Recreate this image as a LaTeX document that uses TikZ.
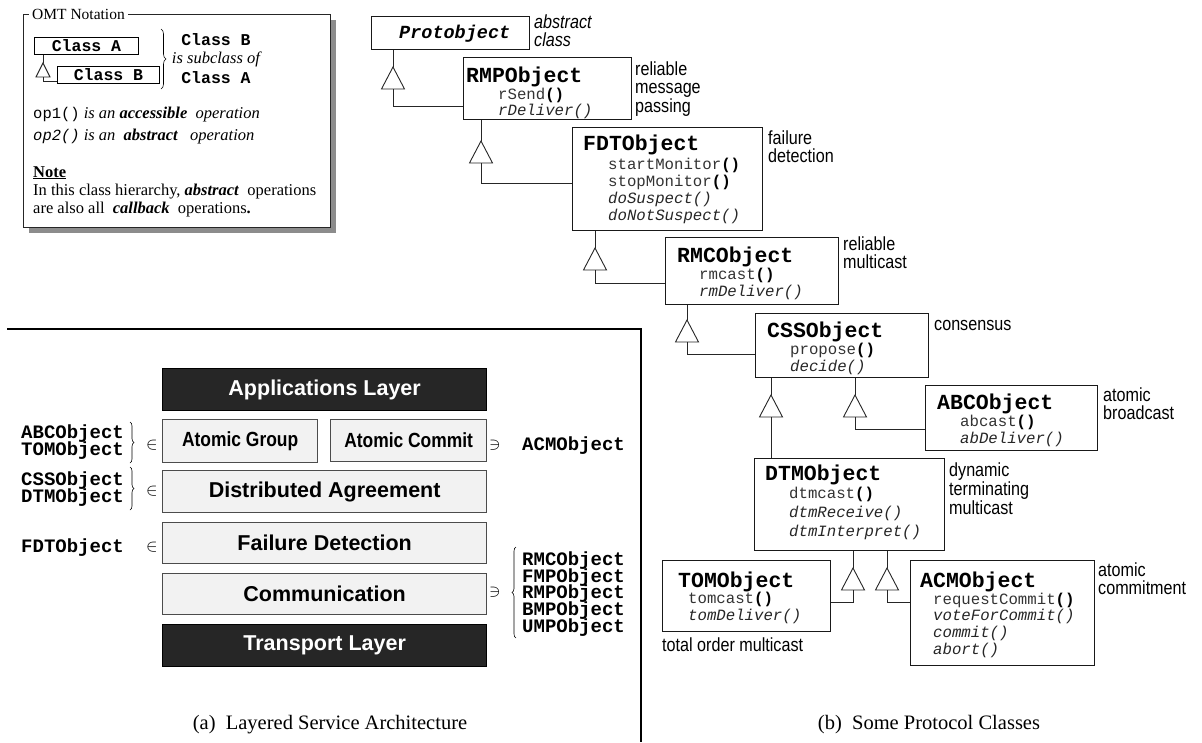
\documentclass[tikz,border=0pt]{standalone}
\usepackage{fontspec}
\setmainfont{Liberation Serif}
\newfontfamily\cour{Liberation Mono}
\newfontfamily\nsans[FakeStretch=0.85]{Liberation Sans}
\newfontfamily\hsans{Liberation Sans}
\usetikzlibrary{decorations.pathreplacing}

% accessible operation: plain name, bold parentheses
\newcommand{\opacc}[1]{{\color{black!80}#1}\textbf{()}}
% abstract (callback) operation: italic
\newcommand{\opabs}[1]{{\color{black!85}\textit{#1()}}}

% inheritance triangle: name, x, apex y, half width, height
\newcommand{\inhtri}[5]{%
  \coordinate (#1a) at (#2,#3);
  \coordinate (#1b) at (#2,#3+#5);
  \draw[tri] (#1a) -- ++(-#4,#5) -- ++(2*#4,0) -- cycle;
}

\begin{document}
\begin{tikzpicture}[x=1pt,y=-1pt,
  cls/.style={draw=black!90, line width=1.1pt, fill=white, inner sep=0pt, anchor=north west},
  cname/.style={anchor=base west, inner sep=0pt, font=\cour\bfseries\fontsize{21.5}{22}\selectfont},
  mth/.style={anchor=base west, inner sep=0pt, font=\cour\fontsize{15.7}{17}\selectfont},
  tag/.style={anchor=north west, inner sep=0pt, align=left, font=\nsans\fontsize{19}{17.5}\selectfont},
  conn/.style={line width=0.9pt, draw=black!85},
  tri/.style={conn, fill=white},
  layer/.style={draw=black!70, line width=1.3pt, fill=black!5, inner sep=0pt, anchor=north west,
    font=\hsans\bfseries\fontsize{21.5}{24}\selectfont},
  darklayer/.style={layer, fill=black!85, draw=black, text=white},
  obj/.style={anchor=base west, inner sep=0pt, font=\cour\bfseries\fontsize{19}{19}\selectfont},
  memb/.style={inner sep=0pt, font=\fontsize{17}{17}\selectfont},
  brc/.style={decorate, decoration={brace, amplitude=4pt}, line width=0.6pt},
  serif/.style={anchor=base west, inner sep=0pt, font=\fontsize{16.5}{18}\selectfont},
  capt/.style={inner sep=0pt, font=\fontsize{20.5}{22}\selectfont}
]
\useasboundingbox (0,0) rectangle (1202,742);

% ---------------- OMT notation legend ----------------
\fill[black!45] (29,20) rectangle (336,233);
\node[draw=black!85, line width=0.9pt, fill=white, minimum width=307, minimum height=213,
      anchor=north west, inner sep=0pt] (omt) at (23,14) {};
\node[fill=white, inner xsep=3pt, inner ysep=1pt, anchor=west, font=\fontsize{15.5}{16}\selectfont]
      (omttitle) at (29,14) {OMT Notation};

\node[draw, line width=1pt, minimum width=104, minimum height=17, anchor=north west, inner sep=0pt,
      font=\cour\bfseries\fontsize{16.5}{17}\selectfont] (ca) at (34,37) {Class A};
\node[draw, line width=1pt, minimum width=102, minimum height=17, anchor=north west, inner sep=0pt,
      font=\cour\bfseries\fontsize{16.5}{17}\selectfont] (cb) at (57,66) {Class B};
\inhtri{o}{43}{63}{7}{14}
\draw[conn] (ca.south -| oa) -- (oa);
\draw[conn] (ob) |- (cb.west |- 0,81);
\draw[brc, decoration={amplitude=5pt}] (161,29) -- (161,89);
\node[anchor=base, inner sep=0pt, font=\cour\bfseries\fontsize{16.5}{17}\selectfont] (lb) at (216,45) {Class B};
\node[anchor=base, inner sep=0pt, font=\itshape\fontsize{16.5}{17}\selectfont] (lsub) at (216,63) {is subclass of};
\node[anchor=base, inner sep=0pt, font=\cour\bfseries\fontsize{16.5}{17}\selectfont] (la) at (216,83) {Class A};

\node[serif] (op1) at (33,118) {{\cour\fontsize{15.5}{17}\selectfont op1()} \textit{is an \textbf{accessible} \ operation}};
\node[serif] (op2) at (33,140) {{\cour\itshape\fontsize{15.5}{17}\selectfont op2()} \textit{is an \ \textbf{abstract} \ \ operation}};
\node[serif] (note) at (33,177) {\underline{\textbf{Note}}};
\node[serif] (note1) at (33,195) {In this class hierarchy, \textbf{\textit{abstract}} \ operations};
\node[serif] (note2) at (33,213) {are also all \ \textbf{\textit{callback}} \ operations\textbf{.}};

% ---------------- protocol class hierarchy ----------------
\node[cls, minimum width=158, minimum height=33] (proto) at (371,16) {};
\node[cname, font=\cour\bfseries\itshape\fontsize{18.5}{20}\selectfont] (protot) at (399,38) {Protobject};
\node[tag, font=\nsans\itshape\fontsize{19}{17.5}\selectfont] (protol) at (534,15) {abstract\\class};

\node[cls, minimum width=168, minimum height=62] (rmp) at (463,57) {};
\node[cname] (rmpt) at (466,82) {RMPObject};
\node[mth] (rmp1) at (498,99) {\opacc{rSend}};
\node[mth] (rmp2) at (498,115) {\opabs{rDeliver}};
\node[tag] (rmpl) at (635,62) {reliable\\message\\passing};

\node[cls, minimum width=190, minimum height=103] (fdt) at (572,127) {};
\node[cname] (fdtt) at (583,150) {FDTObject};
\node[mth] (fdt1) at (608,169) {\opacc{startMonitor}};
\node[mth] (fdt2) at (608,186) {\opacc{stopMonitor}};
\node[mth] (fdt3) at (608,203) {\opabs{doSuspect}};
\node[mth] (fdt4) at (608,220) {\opabs{doNotSuspect}};
\node[tag] (fdtl) at (768,131) {failure\\detection};

\node[cls, minimum width=173, minimum height=67] (rmc) at (665,237) {};
\node[cname] (rmct) at (677,262) {RMCObject};
\node[mth] (rmc1) at (699,279) {\opacc{rmcast}};
\node[mth] (rmc2) at (699,296) {\opabs{rmDeliver}};
\node[tag] (rmcl) at (843,237) {reliable\\multicast};

\node[cls, minimum width=173, minimum height=64] (css) at (755,313) {};
\node[cname] (csst) at (767,337) {CSSObject};
\node[mth] (css1) at (790,354) {\opacc{propose}};
\node[mth] (css2) at (790,371) {\opabs{decide}};
\node[tag, anchor=base west] (cssl) at (934,330) {consensus};

\node[cls, minimum width=172, minimum height=65] (abc) at (925,385) {};
\node[cname] (abct) at (937,409) {ABCObject};
\node[mth] (abc1) at (960,426) {\opacc{abcast}};
\node[mth] (abc2) at (960,443) {\opabs{abDeliver}};
\node[tag] (abcl) at (1103,388) {atomic\\broadcast};

\node[cls, minimum width=190, minimum height=92] (dtm) at (754,458) {};
\node[cname] (dtmt) at (765,480) {DTMObject};
\node[mth] (dtm1) at (789,498) {\opacc{dtmcast}};
\node[mth] (dtm2) at (789,517) {\opabs{dtmReceive}};
\node[mth] (dtm3) at (789,536) {\opabs{dtmInterpret}};
\node[tag] (dtml) at (949,463) {dynamic\\terminating\\multicast};

\node[cls, minimum width=168, minimum height=71] (tom) at (662,560) {};
\node[cname] (tomt) at (678,587) {TOMObject};
\node[mth] (tom1) at (688,603) {\opacc{tomcast}};
\node[mth] (tom2) at (688,620) {\opabs{tomDeliver}};
\node[tag, anchor=base west] (toml) at (662,651) {total order multicast};

\node[cls, minimum width=184, minimum height=105] (acm) at (910,560) {};
\node[cname] (acmt) at (920,587) {ACMObject};
\node[mth] (acm1) at (933,604) {\opacc{requestCommit}};
\node[mth] (acm2) at (933,620) {\opabs{voteForCommit}};
\node[mth] (acm3) at (933,637) {\opabs{commit}};
\node[mth] (acm4) at (933,654) {\opabs{abort}};
\node[tag] (acml) at (1098,563) {atomic\\commitment};

% inheritance links
\inhtri{t1}{393}{67}{11.5}{22}
\draw[conn] (proto.south -| t1a) -- (t1a);
\draw[conn] (t1b) |- (rmp.west |- 0,106);

\inhtri{t2}{481}{141}{11.5}{22}
\draw[conn] (rmp.south -| t2a) -- (t2a);
\draw[conn] (t2b) |- (fdt.west |- 0,183);

\inhtri{t3}{595}{248}{11.5}{22}
\draw[conn] (fdt.south -| t3a) -- (t3a);
\draw[conn] (t3b) |- (rmc.west |- 0,283);

\inhtri{t4}{687}{320}{11.5}{22}
\draw[conn] (rmc.south -| t4a) -- (t4a);
\draw[conn] (t4b) |- (css.west |- 0,354);

\inhtri{t5}{855}{395}{11.5}{22}
\draw[conn] (css.south -| t5a) -- (t5a);
\draw[conn] (t5b) |- (abc.west |- 0,429);

\inhtri{t6}{771}{395}{11.5}{22}
\draw[conn] (css.south -| t6a) -- (t6a);
\draw[conn] (t6b) -- (dtm.north -| t6b);

\inhtri{t7}{853}{568}{11.5}{22}
\draw[conn] (dtm.south -| t7a) -- (t7a);
\draw[conn] (t7b) |- (tom.east |- 0,602);

\inhtri{t8}{887}{568}{11.5}{22}
\draw[conn] (dtm.south -| t8a) -- (t8a);
\draw[conn] (t8b) |- (acm.west |- 0,602);

% ---------------- panel separators ----------------
\draw[line width=2.4pt] (7,329) -- (641,329) -- (641,742);

% ---------------- layered service architecture ----------------
\node[darklayer, minimum width=324, minimum height=42] (app) at (162,368) {Applications Layer};
\node[layer, minimum width=155, minimum height=43, font=\nsans\bfseries\fontsize{20.5}{24}\selectfont] (agrp) at (162,419) {Atomic Group};
\node[layer, minimum width=156, minimum height=42, font=\nsans\bfseries\fontsize{20.5}{24}\selectfont] (acom) at (330,419) {Atomic Commit};
\node[layer, minimum width=324, minimum height=42] (dagr) at (162,470) {Distributed Agreement};
\node[layer, minimum width=324, minimum height=41] (fdet) at (162,522) {Failure Detection};
\node[layer, minimum width=324, minimum height=41] (comm) at (162,573) {Communication};
\node[darklayer, minimum width=324, minimum height=42] (trans) at (162,624) {Transport Layer};

\node[obj] (labc) at (21,438) {ABCObject};
\node[obj] (ltom) at (21,455) {TOMObject};
\draw[brc] (130,422) -- (130,463);
\node[memb] (in1) at (152,445) {$\in$};

\node[obj] (lcss) at (21,485) {CSSObject};
\node[obj] (ldtm) at (21,502) {DTMObject};
\draw[brc] (130,467) -- (130,510);
\node[memb] (in2) at (152,491) {$\in$};

\node[obj] (lfdt) at (21,552) {FDTObject};
\node[memb] (in3) at (152,547) {$\in$};

\node[memb] (ni1) at (495,445) {$\ni$};
\node[obj] (racm) at (522,450) {ACMObject};

\node[memb] (ni2) at (495,592) {$\ni$};
\draw[brc] (516,638) -- (516,547);
\node[obj] (rrmc) at (522,565) {RMCObject};
\node[obj] (rfmp) at (522,582) {FMPObject};
\node[obj] (rrmp) at (522,598.5) {RMPObject};
\node[obj] (rbmp) at (522,615) {BMPObject};
\node[obj] (rump) at (522,632) {UMPObject};

% ---------------- captions ----------------
\node[capt] (capa) at (330,725) {(a)\enspace Layered Service Architecture};
\node[capt] (capb) at (929,725) {(b)\enspace Some Protocol Classes};
\end{tikzpicture}
\end{document}
